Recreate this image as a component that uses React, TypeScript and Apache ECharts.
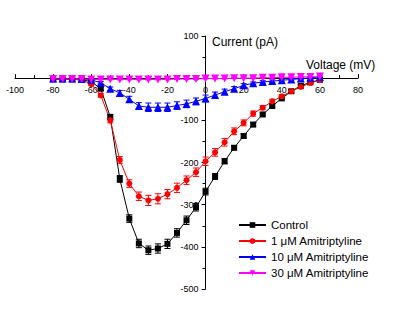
import React, { useEffect, useRef } from "react";
import * as echarts from "echarts";

const voltage = [-80, -75, -70, -65, -60, -55, -50, -45, -40, -35, -30, -25, -20, -15, -10, -5, 0, 5, 10, 15, 20, 25, 30, 35, 40, 45, 50, 55, 60];
const control = [-3, -3, -3, -4, -8, -25, -92, -239, -333, -392, -408, -404, -393, -367, -337, -306, -269, -233, -197, -165, -137, -110, -86, -66, -48, -31, -18, -10, -4];
const controlErr = [2, 2, 2, 2, 3, 4, 6, 8, 9, 10, 10, 11, 11, 10, 10, 9, 8, 7, 6, 5, 5, 5, 4, 4, 3, 3, 3, 2, 2];
const ami1 = [-2, -2, -2, -4, -14, -41, -100, -194, -250, -280, -290, -286, -275, -260, -242, -223, -197, -176, -152, -126, -106, -84, -70, -55, -43, -31, -21, -11, -5];
const ami1Err = [2, 2, 2, 2, 3, 4, 6, 8, 9, 10, 12, 12, 11, 11, 10, 10, 10, 9, 9, 8, 7, 6, 5, 5, 4, 4, 3, 3, 3];
const ami10 = [-1, -1, -1, -2, -4, -11, -25, -35, -50, -66, -69, -69, -69, -65, -61, -55, -48, -40, -32, -25, -17, -12, -9, -7, -5, -3, -1, 1, 3];
const ami10Err = [2, 2, 2, 2, 2, 3, 4, 6, 7, 8, 10, 10, 10, 9, 9, 8, 8, 7, 6, 5, 4, 3, 3, 3, 2, 2, 2, 2, 2];
const ami30 = [-2, -2, -2, -2, -3, -3, -3, -3, -3, -3, -3, -3, -3, -2, -2, -2, -1, -1, -1, 0, 0, 0, 1, 1, 2, 2, 3, 3, 4];
const ami30Err = [1, 1, 1, 1, 1, 1, 1, 1, 1, 1, 1, 1, 1, 1, 1, 1, 1, 1, 1, 1, 1, 1, 1, 1, 1, 1, 1, 1, 1];
const names = ["Control", "1 μM Amitriptyline", "10 μM Amitriptyline", "30 μM Amitriptyline"];
const colors = ["#000000", "#ff0000", "#0000ff", "#ff00ff"];
const symbols = ["rect", "circle", "triangle", "triangle"];
const xTicks = { min: -100, max: 80, interval: 20 };
const yTicks = { min: -500, max: 100, interval: 100 };

const FONT = "'Liberation Sans', Arial, sans-serif";
const GRID = { left: 15, right: 42, top: 36, bottom: 36 };
const W = 400;
const H = 325;

export default function App() {
  const ref = useRef<HTMLDivElement>(null);
  useEffect(() => {
    document.body.style.margin = "0";
    const chart = echarts.init(ref.current!, null, { renderer: "svg" });
    const sets = [
      [control, controlErr],
      [ami1, ami1Err],
      [ami10, ami10Err],
      [ami30, ami30Err],
    ];
    // position of zero on each axis, so labels can sit next to the on-zero axis lines
    const gw = W - GRID.left - GRID.right;
    const gh = H - GRID.top - GRID.bottom;
    const zeroX = GRID.left + ((0 - xTicks.min) / (xTicks.max - xTicks.min)) * gw;
    const zeroY = GRID.top + ((yTicks.max - 0) / (yTicks.max - yTicks.min)) * gh;
    const gridBottom = H - GRID.bottom;
    const xLabelMargin = zeroY + 7 - gridBottom;
    const yLabelMargin = -(zeroX - GRID.left) + 7;

    const errSeries = sets.map(([vals, errs], i) => ({
      type: "custom",
      name: names[i] + " err",
      z: 2,
      data: voltage.map((v, j) => [v, vals[j] - errs[j], vals[j] + errs[j]]),
      renderItem: (params: any, api: any) => {
        const lo = api.coord([api.value(0), api.value(1)]);
        const hi = api.coord([api.value(0), api.value(2)]);
        const w = 3;
        const st = { stroke: colors[i], lineWidth: 1 };
        return {
          type: "group",
          children: [
            { type: "line", shape: { x1: lo[0], y1: lo[1], x2: hi[0], y2: hi[1] }, style: st },
            { type: "line", shape: { x1: lo[0] - w, y1: lo[1], x2: lo[0] + w, y2: lo[1] }, style: st },
            { type: "line", shape: { x1: hi[0] - w, y1: hi[1], x2: hi[0] + w, y2: hi[1] }, style: st },
          ],
        };
      },
      silent: true,
    }));
    const lineSeries = sets.map(([vals], i) => ({
      type: "line",
      name: names[i],
      z: 3,
      data: voltage.map((v, j) => [v, vals[j]]),
      symbol: symbols[i],
      symbolSize: i >= 2 ? 8 : 6,
      symbolRotate: i === 3 ? 180 : 0,
      itemStyle: { color: colors[i] },
      lineStyle: { color: colors[i], width: 1 },
    }));
    chart.setOption({
      animation: false,
      grid: GRID,
      xAxis: {
        type: "value",
        min: xTicks.min,
        max: xTicks.max,
        interval: xTicks.interval,
        axisLine: { onZero: true, lineStyle: { color: "#000", width: 1 } },
        axisTick: { show: true, inside: true, length: 4, lineStyle: { color: "#000" } },
        minorTick: { show: true, splitNumber: 2, length: 3, lineStyle: { color: "#000" } },
        splitLine: { show: false },
        axisLabel: { color: "#000", fontSize: 9, fontFamily: FONT, margin: xLabelMargin, hideOverlap: false },
      },
      yAxis: {
        type: "value",
        min: yTicks.min,
        max: yTicks.max,
        interval: yTicks.interval,
        axisLine: { show: true, onZero: true, lineStyle: { color: "#000", width: 1 } },
        axisTick: { show: true, length: 4, lineStyle: { color: "#000" } },
        minorTick: { show: true, splitNumber: 2, length: 3, lineStyle: { color: "#000" } },
        splitLine: { show: false },
        axisLabel: { color: "#000", fontSize: 9, fontFamily: FONT, margin: yLabelMargin, hideOverlap: false },
      },
      legend: {
        data: names,
        orient: "vertical",
        left: 238,
        top: 219,
        padding: 0,
        itemWidth: 27,
        itemHeight: 7,
        itemGap: 4,
        textStyle: { color: "#000", fontSize: 11.5, fontFamily: FONT },
      },
      graphic: [
        { type: "text", left: 212, top: 36, style: { text: "Current (pA)", fontSize: 12, fontFamily: FONT, fill: "#000" } },
        { type: "text", left: 306, top: 59, style: { text: "Voltage (mV)", fontSize: 12, fontFamily: FONT, fill: "#000" } },
      ],
      series: [...errSeries, ...lineSeries],
    });
    return () => chart.dispose();
  }, []);
  return <div ref={ref} style={{ width: W, height: H }} />;
}
